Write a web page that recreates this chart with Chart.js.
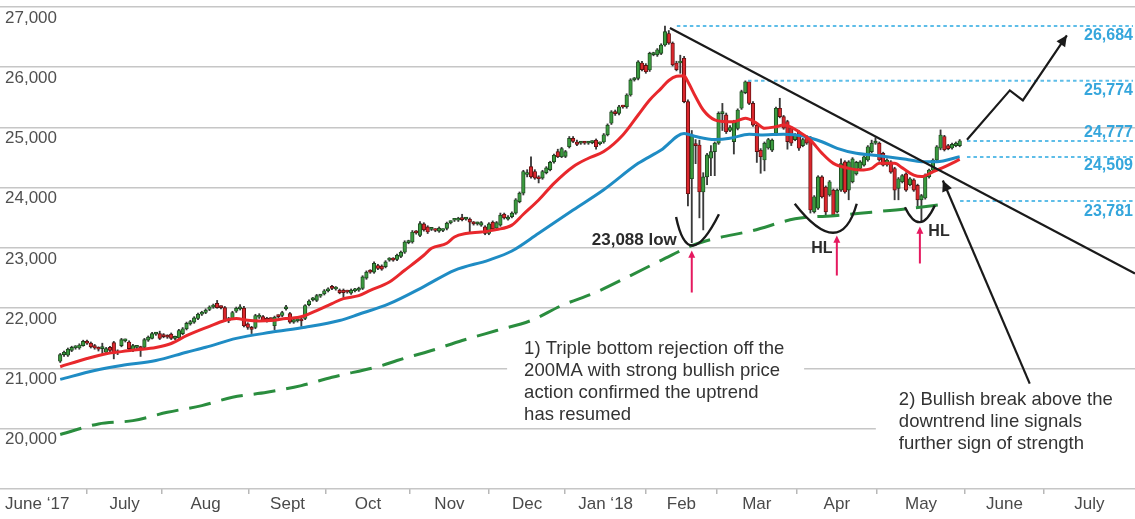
<!DOCTYPE html>
<html>
<head>
<meta charset="utf-8">
<script src="https://cdn.jsdelivr.net/npm/chart.js@4"></script>
<style>
html, body { margin: 0; padding: 0; background: #fff; }
#wrap { width: 1135px; height: 519px; position: relative; }
</style>
</head>
<body>
<div id="wrap"><canvas id="myChart"></canvas></div>
<script>
// trading-day index of the first candle (day 0 = start of June 2017)
const firstDay = 15;

const opens = [
    21120, 21230, 21220, 21300, 21345, 21340, 21380, 21450, 21420, 21380,
    21340, 21330, 21270, 21350, 21430, 21290, 21380, 21460, 21440, 21300,
    21350, 21340, 21350, 21470, 21500, 21570, 21580, 21560, 21540, 21570,
    21500, 21510, 21580, 21660, 21740, 21770, 21830, 21900, 21930, 21980,
    22020, 22080, 22020, 22010, 21820, 21830, 21950, 21990, 22000, 21740,
    21680, 21680, 21850, 21860, 21830, 21820, 21710, 21870, 21880, 21990,
    21910, 21770, 21790, 21820, 21830, 22060, 22140, 22130, 22200, 22240,
    22290, 22360, 22320, 22300, 22300, 22280, 22250, 22290, 22300, 22330,
    22500, 22620, 22600, 22710, 22700, 22690, 22800, 22820, 22810, 22860,
    22930, 23090, 23100, 23270, 23210, 23400, 23350, 23310, 23300, 23280,
    23290, 23325, 23420, 23460, 23460, 23480, 23480, 23480, 23420, 23400,
    23380, 23350, 23240, 23430, 23330, 23380, 23560, 23480, 23520, 23580,
    23770, 23910, 24220, 24350, 24270, 24170, 24160, 24250, 24300, 24430,
    24600, 24515, 24520, 24680, 24820, 24760, 24740, 24750, 24740, 24750,
    24790, 24730, 24760, 24880, 25070, 25260, 25235, 25350, 25345, 25540,
    25790, 25815, 26070, 26030, 25955, 26210, 26205, 26230, 26370, 26560,
    26400, 26070, 26070, 26150, 25430, 24150, 24720, 24710, 23930, 24180,
    24490, 24600, 24740, 25230, 25210, 24950, 24765, 24985, 25320, 25580,
    25760, 25400, 25040, 24625, 24460, 24660, 24625, 24905, 25320, 25180,
    25100, 24990, 24800, 24930, 24700, 24850, 24790, 23600, 23660, 24180,
    24010, 23880, 23960, 23600, 23960, 24430, 23960, 24100, 24230, 24320,
    24375, 24460, 24600, 24740, 24740, 24570, 24380, 24430, 24320, 23990,
    24100, 24230, 24050, 24130, 24040, 23800, 23830, 24180, 24290, 24460,
    24655, 24850, 24700, 24660, 24700, 24700
];
const highs = [
    21250, 21290, 21340, 21370, 21380, 21410, 21470, 21470, 21440, 21400,
    21360, 21420, 21350, 21370, 21450, 21310, 21500, 21490, 21460, 21400,
    21380, 21370, 21500, 21540, 21600, 21600, 21620, 21580, 21560, 21590,
    21540, 21650, 21680, 21770, 21800, 21860, 21920, 21950, 21990, 22040,
    22070, 22130, 22040, 22030, 21850, 21950, 22020, 22060, 22030, 21760,
    21700, 21900, 21910, 21880, 21850, 21840, 21870, 21890, 21950, 22050,
    21930, 21830, 21830, 21840, 22060, 22140, 22180, 22230, 22230, 22310,
    22340, 22380, 22360, 22320, 22320, 22300, 22320, 22330, 22350, 22540,
    22620, 22640, 22770, 22730, 22720, 22790, 22840, 22840, 22900, 22950,
    23120, 23130, 23290, 23290, 23440, 23420, 23370, 23340, 23320, 23350,
    23320, 23430, 23450, 23490, 23510, 23560, 23510, 23500, 23440, 23430,
    23440, 23370, 23420, 23450, 23440, 23580, 23580, 23540, 23600, 23820,
    23930, 24290, 24300, 24515, 24300, 24200, 24290, 24350, 24440, 24560,
    24640, 24670, 24620, 24850, 24850, 24790, 24770, 24770, 24770, 24780,
    24810, 24760, 24900, 25060, 25280, 25290, 25370, 25370, 25560, 25810,
    25830, 26110, 26100, 26060, 26250, 26250, 26310, 26390, 26684, 26610,
    26420, 26100, 26200, 26180, 25460, 24950, 24800, 24790, 24250, 24570,
    24700, 24760, 25260, 25400, 25240, 25030, 25120, 25310, 25620, 25774,
    25780, 25430, 25060, 24650, 24760, 24820, 24810, 25340, 25485, 25200,
    25120, 25010, 24900, 24950, 24820, 24870, 24850, 23870, 24200, 24200,
    24030, 24120, 23980, 23980, 24480, 24450, 24450, 24500, 24440, 24450,
    24530, 24700, 24790, 24830, 24760, 24590, 24480, 24450, 24340, 24170,
    24220, 24250, 24170, 24150, 24060, 23890, 24230, 24310, 24480, 24700,
    24960, 24870, 24720, 24740, 24760, 24800
];
const lows = [
    21100, 21200, 21200, 21280, 21320, 21320, 21370, 21400, 21340, 21320,
    21290, 21250, 21250, 21280, 21160, 21230, 21360, 21440, 21310, 21280,
    21330, 21200, 21330, 21450, 21490, 21550, 21480, 21510, 21500, 21480,
    21480, 21490, 21560, 21640, 21720, 21750, 21810, 21880, 21910, 21960,
    22000, 22000, 21990, 21780, 21760, 21810, 21930, 21970, 21690, 21650,
    21580, 21660, 21830, 21780, 21770, 21790, 21645, 21840, 21860, 21970,
    21750, 21750, 21770, 21700, 21810, 22040, 22120, 22110, 22180, 22220,
    22270, 22310, 22300, 22240, 22180, 22250, 22230, 22270, 22280, 22310,
    22480, 22580, 22580, 22640, 22630, 22670, 22780, 22780, 22790, 22840,
    22910, 23070, 23080, 23230, 23190, 23280, 23240, 23290, 23270, 23260,
    23270, 23300, 23400, 23440, 23440, 23450, 23460, 23250, 23380, 23380,
    23360, 23220, 23220, 23300, 23310, 23360, 23480, 23460, 23500, 23560,
    23750, 23880, 24180, 24160, 24140, 24080, 24140, 24230, 24280, 24410,
    24500, 24500, 24500, 24660, 24750, 24700, 24720, 24720, 24720, 24730,
    24640, 24710, 24740, 24860, 25050, 25200, 25210, 25320, 25320, 25520,
    25770, 25790, 25940, 25900, 25930, 26190, 26180, 26210, 26350, 26380,
    26020, 25940, 25900, 25410, 23700, 23088, 24400, 23500, 23300, 24050,
    24200, 24200, 24720, 24950, 24900, 24930, 24560, 24960, 25300, 25560,
    25380, 25020, 24420, 24240, 24280, 24640, 24600, 24880, 25160, 24970,
    24640, 24700, 24780, 24620, 24680, 24720, 23580, 23580, 23640, 23830,
    23540, 23860, 23520, 23580, 23940, 23910, 23800, 24080, 24210, 24300,
    24360, 24440, 24580, 24720, 24440, 24360, 24360, 24240, 23800, 23800,
    24080, 23940, 24030, 23940, 23700, 23440, 23810, 24160, 24270, 24440,
    24630, 24610, 24630, 24640, 24680, 24680
];
const closes = [
    21230, 21270, 21320, 21350, 21355, 21390, 21450, 21420, 21360, 21340,
    21320, 21340, 21330, 21300, 21250, 21260, 21480, 21470, 21330, 21380,
    21360, 21330, 21480, 21520, 21580, 21580, 21500, 21530, 21520, 21500,
    21520, 21630, 21660, 21750, 21780, 21840, 21900, 21930, 21970, 22020,
    22050, 22010, 22010, 21800, 21790, 21930, 22000, 22010, 21710, 21680,
    21650, 21880, 21880, 21800, 21800, 21810, 21850, 21860, 21930, 22000,
    21770, 21810, 21810, 21790, 22045, 22120, 22160, 22210, 22210, 22290,
    22310, 22330, 22340, 22260, 22260, 22270, 22300, 22310, 22330, 22520,
    22600, 22600, 22745, 22660, 22650, 22770, 22820, 22800, 22880, 22930,
    23100, 23110, 23265, 23250, 23405, 23300, 23265, 23320, 23290, 23330,
    23300, 23410, 23430, 23470, 23490, 23470, 23490, 23430, 23400, 23410,
    23420, 23240, 23400, 23320, 23420, 23545, 23500, 23500, 23580, 23800,
    23910, 24270, 24240, 24180, 24160, 24150, 24270, 24330, 24420, 24540,
    24515, 24650, 24600, 24820, 24770, 24720, 24750, 24740, 24750, 24760,
    24680, 24740, 24880, 25040, 25260, 25230, 25345, 25340, 25540, 25790,
    25800, 26090, 25960, 25925, 26230, 26230, 26290, 26370, 26590, 26400,
    26040, 25960, 26080, 25430, 23900, 24875, 24700, 23930, 24180, 24545,
    24600, 24740, 25235, 25240, 24930, 25000, 25100, 25290, 25595, 25760,
    25400, 25040, 24600, 24515, 24740, 24800, 24790, 25320, 25180, 24990,
    24765, 24740, 24880, 24655, 24800, 24740, 23630, 23850, 24180, 23850,
    23600, 24100, 23550, 23960, 24400, 23930, 24430, 24480, 24420, 24430,
    24515, 24680, 24740, 24775, 24460, 24375, 24460, 24260, 23960, 24150,
    24200, 23960, 24150, 23960, 23800, 23870, 24210, 24295, 24460, 24680,
    24875, 24630, 24650, 24720, 24740, 24780
];

// moving averages at these trading days
const fastDays = [15, 22, 27, 31, 35, 40, 44, 48, 54, 58, 61, 64, 67, 70, 74, 77, 79, 82, 86, 89,
    93, 96, 101, 105, 110, 112, 116, 118, 121, 125, 129, 133, 136, 140, 144, 149, 153, 157, 162, 166,
    169, 172, 174, 176, 178, 179, 181, 183, 186, 189, 191, 194, 197, 199, 202, 204, 208, 211, 214, 217,
    221, 224, 227, 229, 233, 235, 238, 240, 243, 247, 250];
const fastValues = [21030, 21165, 21245, 21280, 21310, 21350, 21415, 21545, 21700, 21796, 21830, 21800, 21790, 21796, 21830, 21845, 21880, 21962, 22078, 22160,
    22210, 22297, 22435, 22630, 22880, 22995, 23078, 23183, 23240, 23265, 23305, 23380, 23560, 23796, 24073, 24350, 24490, 24600, 24876, 25208,
    25457, 25650, 25780, 25850, 25860, 25760, 25510, 25290, 25125, 25097, 25097, 25153, 25070, 24987, 25013, 25040, 24930, 24790, 24575, 24405,
    24322, 24294, 24322, 24405, 24405, 24330, 24210, 24185, 24265, 24377, 24470];

const slowDays = [15, 24, 31, 40, 48, 53, 61, 70, 79, 88, 93, 101, 110, 118, 127, 133, 140, 149, 157, 166,
    172, 178, 181, 186, 190, 195, 198, 204, 209, 214, 218, 223, 227, 231, 236, 240, 244, 250];
const slowValues = [20820, 20966, 21050, 21132, 21270, 21352, 21500, 21600, 21685, 21796, 21900, 22077, 22360, 22630, 22800, 22950, 23245, 23630, 23966, 24405,
    24626, 24900, 24850, 24800, 24820, 24890, 24875, 24890, 24860, 24764, 24654, 24571, 24543, 24515, 24472, 24432, 24432, 24515];

const longDays = [15, 25, 34, 43, 52, 60, 69, 78, 86, 99, 103, 112, 120, 129, 138, 146, 155, 164, 171, 175,
    180, 185, 196, 207, 218, 227, 236, 247];
const longValues = [19905, 20080, 20135, 20273, 20384, 20522, 20605, 20716, 20854, 21049, 21132, 21298, 21464, 21630, 21796, 22045, 22266, 22543, 22764, 22890,
    23040, 23140, 23290, 23484, 23540, 23595, 23650, 23735];

// x axis: month boundaries and label positions in trading days
const monthEdges = [22, 41.6, 64.3, 84.4, 106.4, 127, 146.9, 168, 186.6, 207.4, 228.4, 251.4, 272];
const monthMids = [9, 31.8, 53, 74.4, 95.4, 116.7, 137, 157.5, 177.3, 197, 217.9, 239.9, 261.7, 283.9];
const monthLabels = ['June \u201817', 'July', 'Aug', 'Sept', 'Oct', 'Nov', 'Dec', 'Jan \u201818', 'Feb', 'Mar', 'Apr', 'May', 'June', 'July'];

// key levels
const levelValues = [26684, 25774, 24777, 24509, 23781];
const levelStarts = [176.1, 194.7, 251.9, 251.9, 250.1];

const FONT = "'Liberation Sans', Arial, sans-serif";

const candleDays = opens.map((o, i) => firstDay + i);
const wickData = candleDays.map((d, i) => ({ x: d, y: [lows[i], highs[i]] }));
const bodyData = candleDays.map((d, i) => ({ x: d, y: [opens[i], closes[i]] }));
const bodyFill = opens.map((o, i) => closes[i] >= o ? '#3b9a3f' : '#da272d');
const bodyEdge = opens.map((o, i) => closes[i] >= o ? '#1c461e' : '#5e1010');

function pairs(days, vals) {
    return days.map((d, i) => ({ x: d, y: vals[i] }));
}

function arrowHead(ctx, x1, y1, x2, y2, size, color) {
    const a = Math.atan2(y2 - y1, x2 - x1);
    ctx.save();
    ctx.fillStyle = color;
    ctx.beginPath();
    ctx.moveTo(x2, y2);
    ctx.lineTo(x2 - size * Math.cos(a - 0.45), y2 - size * Math.sin(a - 0.45));
    ctx.lineTo(x2 - size * Math.cos(a + 0.45), y2 - size * Math.sin(a + 0.45));
    ctx.closePath();
    ctx.fill();
    ctx.restore();
}

//notes: text boxes under the data, lines and labels over it
const notesPlugin = {
    id: 'notes',
    beforeDatasetsDraw(chart) {
        const ctx = chart.ctx;
        const px = v => chart.scales.x.getPixelForValue(v);
        const py = v => chart.scales.y.getPixelForValue(v);
        const area = chart.chartArea;

        const t1x = px(136.2), t1y = py(21331);
        const t2x = px(234.1), t2y = py(20483);
        ctx.save();
        ctx.fillStyle = '#fff';
        ctx.fillRect(t1x - 17, t1y - 10, 297, 86);
        ctx.fillRect(t2x - 23, t2y - 14, area.right - t2x + 23, 70);

        ctx.fillStyle = '#333';
        ctx.font = '18.5px ' + FONT;
        ctx.textBaseline = 'middle';
        ctx.textAlign = 'left';
        ['1) Triple bottom rejection off the', '200MA with strong bullish price',
            'action confirmed the uptrend', 'has resumed'].forEach((s, i) => ctx.fillText(s, t1x, t1y + i * 22));
        ['2) Bullish break above the', 'downtrend line signals',
            'further sign of strength'].forEach((s, i) => ctx.fillText(s, t2x, t2y + i * 22));
        ctx.restore();
    },
    afterDatasetsDraw(chart) {
        const ctx = chart.ctx;
        const px = v => chart.scales.x.getPixelForValue(v);
        const py = v => chart.scales.y.getPixelForValue(v);
        const area = chart.chartArea;
        ctx.save();

        // dotted levels
        ctx.strokeStyle = '#5dbde8';
        ctx.lineWidth = 2;
        ctx.setLineDash([3.5, 3]);
        levelValues.forEach((v, i) => {
            ctx.beginPath();
            ctx.moveTo(px(levelStarts[i]), py(v));
            ctx.lineTo(area.right - 2, py(v));
            ctx.stroke();
        });
        ctx.setLineDash([]);
        ctx.fillStyle = '#35a6dc';
        ctx.font = 'bold 16px ' + FONT;
        ctx.textAlign = 'right';
        ctx.textBaseline = 'middle';
        const labelShift = [10, 10, -8, 9, 11];
        levelValues.forEach((v, i) => {
            ctx.fillText(v.toLocaleString('en-US'), area.right - 2, py(v) + labelShift[i]);
        });

        // downtrend line
        ctx.strokeStyle = '#1a1a1a';
        ctx.lineWidth = 2.2;
        ctx.beginPath();
        ctx.moveTo(px(174.3), py(26650));
        ctx.lineTo(px(295.8), py(22576));
        ctx.stroke();

        // projected path
        const path = [[251.9, 24797], [263.1, 25616], [266.5, 25450], [278, 26530]];
        ctx.beginPath();
        path.forEach((p, i) => i ? ctx.lineTo(px(p[0]), py(p[1])) : ctx.moveTo(px(p[0]), py(p[1])));
        ctx.stroke();
        arrowHead(ctx, px(266.5), py(25450), px(278), py(26530), 12, '#1a1a1a');

        // pointer from note 2
        ctx.beginPath();
        ctx.moveTo(px(268.3), py(20749));
        ctx.lineTo(px(245.6), py(24121));
        ctx.stroke();
        arrowHead(ctx, px(268.3), py(20749), px(245.6), py(24121), 12, '#1a1a1a');

        // U shapes under the three lows
        const arcs = [
            [[175.9, 23516], [180.3, 23042], [187.1, 23560]],
            [[206.9, 23734], [216.9, 23252], [223.1, 23734]],
            [[235.7, 23678], [239.6, 23429], [243.5, 23706]]
        ];
        ctx.lineWidth = 2.4;
        arcs.forEach(a => {
            const x0 = px(a[0][0]), y0 = py(a[0][1]);
            const xb = px(a[1][0]), yb = py(a[1][1]);
            const x2 = px(a[2][0]), y2 = py(a[2][1]);
            ctx.beginPath();
            ctx.moveTo(x0, y0);
            ctx.quadraticCurveTo(2 * xb - (x0 + x2) / 2, 2 * yb - (y0 + y2) / 2, x2, y2);
            ctx.stroke();
        });

        // pink arrows
        ctx.strokeStyle = '#e5195f';
        ctx.lineWidth = 2;
        [[180, 22261, 22959], [217.9, 22543, 23208], [239.6, 22743, 23357]].forEach(a => {
            ctx.beginPath();
            ctx.moveTo(px(a[0]), py(a[1]));
            ctx.lineTo(px(a[0]), py(a[2]) + 5);
            ctx.stroke();
            arrowHead(ctx, px(a[0]), py(a[1]), px(a[0]), py(a[2]), 8, '#e5195f');
        });

        // labels
        ctx.fillStyle = '#2b2b2b';
        ctx.font = 'bold 17px ' + FONT;
        ctx.textAlign = 'right';
        ctx.fillText('23,088 low', px(176.1), py(23125));
        ctx.textAlign = 'center';
        ctx.font = 'bold 16px ' + FONT;
        ctx.fillText('HL', px(214), py(22990));
        ctx.fillText('HL', px(244.6), py(23272));
        ctx.restore();
    }
};

const ctx = document.getElementById('myChart').getContext('2d');
const myChart = new Chart(ctx, {
    type: 'bar',
    data: {
        datasets: [
            {
                type: 'line',
                label: 'fast',
                data: pairs(fastDays, fastValues),
                borderColor: '#e8282c',
                borderWidth: 3,
                pointRadius: 0,
                cubicInterpolationMode: 'monotone',
                order: 1
            },
            {
                type: 'line',
                label: 'slow',
                data: pairs(slowDays, slowValues),
                borderColor: '#1f8cc4',
                borderWidth: 3,
                pointRadius: 0,
                cubicInterpolationMode: 'monotone',
                order: 2
            },
            {
                type: 'line',
                label: '200MA',
                data: pairs(longDays, longValues),
                borderColor: '#2a8d3e',
                borderWidth: 3,
                borderDash: [22, 11],
                pointRadius: 0,
                cubicInterpolationMode: 'monotone',
                order: 3
            },
            {
                label: 'bodies',
                data: bodyData,
                backgroundColor: bodyFill,
                borderColor: bodyEdge,
                borderWidth: 0.9,
                borderSkipped: false,
                barThickness: 3.6,
                minBarLength: 2,
                grouped: false,
                order: 4
            },
            {
                label: 'wicks',
                data: wickData,
                backgroundColor: '#3a3a3a',
                barThickness: 1.2,
                grouped: false,
                order: 5
            }
        ]
    },
    options: {
        responsive: true,
        maintainAspectRatio: false,
        animation: false,
        layout: { padding: { top: 7, left: 0, right: 0, bottom: 0 } },
        plugins: {
            legend: { display: false },
            tooltip: { enabled: false }
        },
        scales: {
            x: {
                type: 'linear',
                offset: false,
                min: -0.73,
                max: 295.8,
                afterBuildTicks: (scale) => {
                    scale.ticks = monthEdges.concat(monthMids).sort((a, b) => a - b).map(v => ({ value: v }));
                },
                afterFit: (scale) => {
                    scale.paddingLeft = 0;
                    scale.paddingRight = 0;
                    scale.height = 30;
                },
                ticks: {
                    autoSkip: false,
                    maxRotation: 0,
                    padding: 0,
                    color: '#4a4a4a',
                    font: { family: FONT, size: 17 },
                    callback: (value) => {
                        const k = monthMids.indexOf(value);
                        return k >= 0 ? monthLabels[k] : '';
                    }
                },
                grid: {
                    offset: false,
                    drawOnChartArea: false,
                    tickLength: 5,
                    lineWidth: 1.5,
                    color: (c) => (c.tick && monthEdges.includes(c.tick.value)) ? '#b8b8b8' : 'rgba(0,0,0,0)'
                },
                border: { display: false }
            },
            y: {
                min: 19000,
                max: 27000,
                afterFit: (scale) => {
                    scale.width = 0;
                    scale.paddingTop = 0;
                    scale.paddingBottom = 0;
                },
                ticks: {
                    stepSize: 1000,
                    mirror: true,
                    padding: 5,
                    labelOffset: 11,
                    color: '#505050',
                    font: { family: FONT, size: 17 },
                    callback: (v) => v === 19000 ? '' : v.toLocaleString('en-US')
                },
                grid: { color: '#c6c6c6', lineWidth: 1.6, drawTicks: false },
                border: { display: false }
            }
        }
    },
    plugins: [notesPlugin]
});
</script>
</body>
</html>
